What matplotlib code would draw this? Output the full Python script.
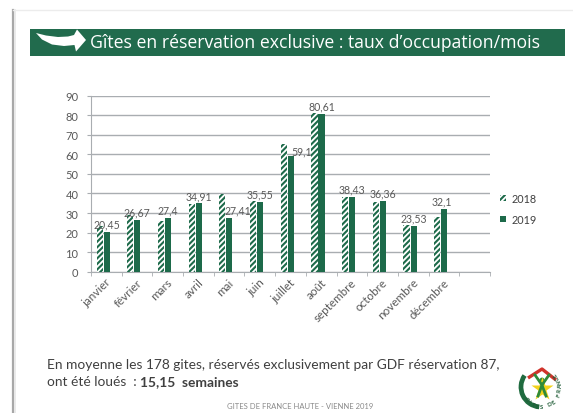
import matplotlib
matplotlib.use("Agg")
import matplotlib.pyplot as plt
import numpy as np
from matplotlib.patches import Rectangle, Polygon, Arc, Circle
from matplotlib.lines import Line2D

# ---------------- data ----------------
months = ['janvier', 'février', 'mars', 'avril', 'mai', 'juin', 'juillet',
          'août', 'septembre', 'octobre', 'novembre', 'décembre']
v2018 = [23.5, 29.0, 26.0, 34.6, 39.8, 36.4, 65.3, 81.0, 38.0, 35.5, 23.8, 27.8]
v2019 = [20.45, 26.67, 27.4, 34.91, 27.41, 35.55, 59.1, 80.61, 38.43, 36.36, 23.53, 32.1]
labels2019 = ['20,45', '26,67', '27,4', '34,91', '27,41', '35,55', '59,1',
              '80,61', '38,43', '36,36', '23,53', '32,1']
series_names = ['2018', '2019']
yticks = [0, 10, 20, 30, 40, 50, 60, 70, 80, 90]
title = "Gîtes en réservation exclusive : taux d’occupation/mois"
note1 = "En moyenne les 178 gites, réservés exclusivement par GDF réservation 87,"
note2a = "ont été loués  : "
note2b = "15,15  semaines"
footer = "GITES DE FRANCE HAUTE - VIENNE 2019"
logo_text = "GITES DE FRANCE"

# ---------------- style ----------------
GREEN = '#1d6a4a'
HEAD = '#216b4d'
GRAY = '#595959'
W, H = 573, 414
plt.rcParams['font.family'] = ['Lato', 'DejaVu Sans']
plt.rcParams['hatch.linewidth'] = 1.5

fig = plt.figure(figsize=(W / 100, H / 100), dpi=100)
fig.patch.set_facecolor('white')

# overlay in pixel coords
bg = fig.add_axes([0, 0, 1, 1], zorder=0)
bg.set_xlim(0, W)
bg.set_ylim(H, 0)
bg.axis('off')

# slide border
bg.add_line(Line2D([13, 13], [11, H], color='#a8a8a8', lw=1.6))
bg.add_line(Line2D([15, 15], [11, H], color='#e6e6e6', lw=1.2))
bg.add_line(Line2D([13, W], [11, 11], color='#ececec', lw=1.0))

# header band
bg.add_patch(Rectangle((30, 30), 535, 27, facecolor=HEAD, edgecolor='none'))
arrow = [(36, 34), (46, 36.5), (58, 38), (68, 37.5), (74, 36), (77, 30.5),
         (86, 41), (76, 52.5), (74.5, 46), (64, 47), (52, 45.5), (42, 40.5)]
bg.add_patch(Polygon(arrow, closed=True, facecolor='white', edgecolor='none'))
t = bg.text(90, 43.5, title, color='white', fontsize=12, va='center', ha='left',
            family=['Open Sans', 'DejaVu Sans'])
fig.canvas.draw()
r = fig.canvas.get_renderer()
wpx = t.get_window_extent(r).width
t.set_fontsize(12 * 447 / wpx)

# bottom notes
n1 = bg.text(47, 365, note1, color='#404040', fontsize=10, va='center', ha='left')
fig.canvas.draw()
w1 = n1.get_window_extent(r).width
fs_note = 10 * 450 / w1
n1.set_fontsize(fs_note)
n2 = bg.text(47, 382, note2a, color='#404040', fontsize=fs_note, va='center', ha='left')
fig.canvas.draw()
e2 = n2.get_window_extent(r)
bg.text(47 + e2.width, 382, note2b, color='#404040', fontsize=fs_note,
        va='center', ha='left', fontweight='bold')
bg.text(300, 407, footer, color='#8a8a8a', fontsize=5.5, va='center', ha='center')

# logo
cx, cy, rr = 541, 388, 20
bg.add_patch(Arc((cx, cy), 2 * rr, 2 * rr, theta1=95, theta2=215, color='#1f6b3f', lw=3.4))
bg.plot([cx + 1], [cy + 2], marker='*', markersize=17, color='#f2d21b', markeredgecolor='none')
bg.add_line(Line2D([cx - 13, cx + 1, cx + 15], [cy - 9, cy - 18, cy - 7], color='#d0332b',
                   lw=2.4, solid_capstyle='butt'))
bg.add_patch(Circle((cx + 1, cy - 7), 2.4, facecolor='#2f8a3a', edgecolor='none'))
bg.add_line(Line2D([cx - 6, cx + 1, cx + 8], [cy - 12, cy - 2, cy - 12], color='#2f8a3a', lw=2))
bg.add_line(Line2D([cx - 3, cx + 1, cx + 5], [cy + 9, cy - 2, cy + 9], color='#2f8a3a', lw=2))
n = len(logo_text)
for i, ch in enumerate(logo_text):
    a = 218 + i * (185 / (n - 1))
    ar = np.deg2rad(a)
    x = cx + (rr - 1) * np.cos(ar)
    y = cy - (rr - 1) * np.sin(ar)
    bg.text(x, y, ch, fontsize=4.3, color='#1f5c36', ha='center', va='center',
            rotation=a + 90, fontweight='bold')

# ---------------- chart ----------------
ax = fig.add_axes([91 / W, (H - 272.7) / H, (490 - 91) / W, (272.7 - 96.7) / H], zorder=2)
ax.patch.set_alpha(0)
x = np.arange(len(months))
bw = 0.2
ax.bar(x - 0.22, v2018, width=bw, facecolor='white', edgecolor=GREEN, hatch='//////',
       linewidth=0, label=series_names[0], zorder=3)
ax.bar(x + 0.01, v2019, width=bw, color=GREEN, linewidth=0, label=series_names[1], zorder=3)

nudge_x = {4: 0.28, 6: 0.36, 11: -0.08}
nudge_y = {6: -1.2}
for i, (v, s) in enumerate(zip(v2019, labels2019)):
    ax.text(i + 0.01 + nudge_x.get(i, 0), v + 4 + nudge_y.get(i, 0), s, ha='center',
            va='center', fontsize=7.6, color=GRAY, zorder=4)

ax.set_xlim(-0.5, 12.5)
ax.set_ylim(0, 90)
ax.set_yticks(yticks)
ax.yaxis.grid(True, color='#a9adb1', lw=1.0, zorder=0)
ax.set_axisbelow(True)
for s in ['top', 'right']:
    ax.spines[s].set_visible(False)
ax.spines['left'].set_color('#a9adb1')
ax.spines['bottom'].set_color('#a9adb1')
ax.tick_params(axis='y', length=3, color='#a9adb1', labelsize=8, labelcolor=GRAY, pad=6)
ax.set_xticks(x)
ax.set_xticklabels(months, rotation=45, ha='right', va='center', rotation_mode='anchor',
                   fontsize=8.4, color=GRAY)
ax.tick_params(axis='x', which='major', length=0, pad=6)
ax.set_xticks(np.arange(-0.5, 13, 1), minor=True)
ax.tick_params(axis='x', which='minor', length=3, color='#a9adb1')
for lbl in ax.get_xticklabels():
    lbl.set_transform(lbl.get_transform() + matplotlib.transforms.ScaledTranslation(3 / 100, 0, fig.dpi_scale_trans))

leg = ax.legend(loc='upper left', bbox_to_anchor=(500 / W, 1 - 194 / H),
                bbox_transform=fig.transFigure, frameon=False, fontsize=7.8,
                handlelength=0.55, handleheight=0.55, handletextpad=0.5,
                labelspacing=0.9, borderaxespad=0, borderpad=0)
for txt in leg.get_texts():
    txt.set_color('#404040')

fig.savefig('out.png', dpi=100, facecolor='white')
